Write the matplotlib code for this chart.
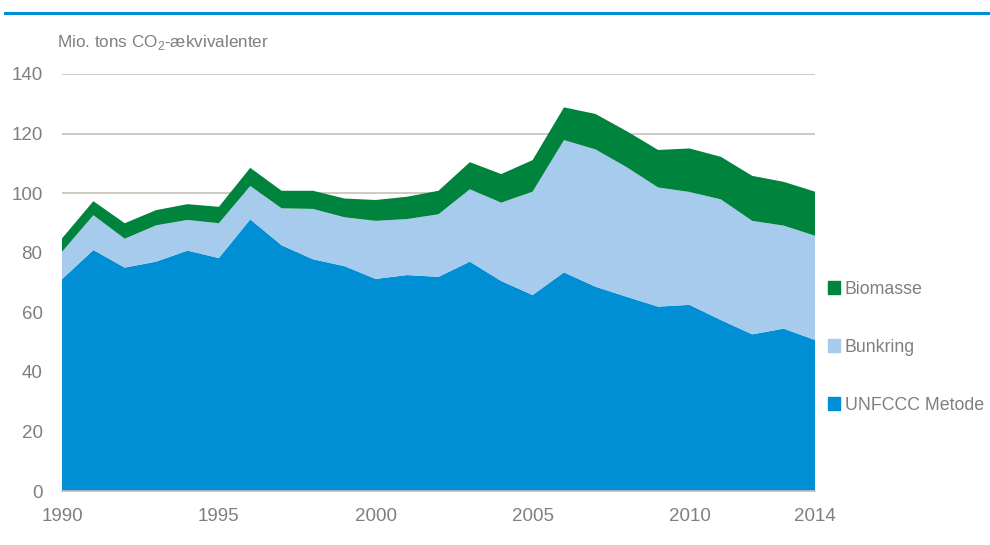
import numpy as np
import matplotlib.pyplot as plt
from matplotlib.patches import Patch
from matplotlib.lines import Line2D

years = np.arange(1990, 2015)
unfccc = [71.1, 80.9, 75.0, 77.0, 80.7, 78.2, 91.2, 82.5, 77.8, 75.5, 71.2, 72.5, 71.9,
          77.0, 70.5, 65.8, 73.4, 68.6, 65.2, 61.9, 62.5, 57.4, 52.6, 54.5, 50.7]
bunkring = [9.2, 11.7, 9.7, 12.2, 10.3, 11.7, 11.2, 12.4, 16.9, 16.4, 19.5, 18.8, 21.0,
            24.3, 26.3, 34.7, 44.4, 46.1, 43.5, 40.0, 37.9, 40.5, 38.1, 34.6, 35.0]
biomasse = [4.5, 4.7, 5.2, 5.1, 5.3, 5.5, 6.1, 5.9, 6.1, 6.3, 7.0, 7.5, 7.9,
            9.1, 9.6, 10.6, 11.0, 11.9, 12.1, 12.6, 14.6, 14.3, 15.1, 14.7, 14.8]
labels = ['UNFCCC Metode', 'Bunkring', 'Biomasse']
colors = ['#008fd5', '#a6cbec', '#00843d']
xticks = [1990, 1995, 2000, 2005, 2010, 2014]

plt.rcParams['font.family'] = ['Liberation Sans', 'DejaVu Sans']
plt.rcParams['mathtext.fontset'] = 'custom'
plt.rcParams['mathtext.rm'] = 'Liberation Sans'
grey = '#7f7f7f'

fig = plt.figure(figsize=(9.9, 5.45), dpi=100)
ax = fig.add_axes([62 / 990, 1 - 491 / 545, 753 / 990, 417 / 545])

ax.stackplot(years, unfccc, bunkring, biomasse, colors=colors, linewidth=0, zorder=2)

ax.set_xlim(1990, 2014)
ax.set_ylim(0, 140)
ax.set_yticks(np.arange(0, 141, 20))
ax.set_xticks(xticks)
ax.grid(axis='y', color='#c6c3b6', linewidth=1.2, zorder=0)
ax.set_axisbelow(True)
for s in ['top', 'right', 'left']:
    ax.spines[s].set_visible(False)
ax.spines['bottom'].set_color('#bfbfbf')
ax.spines['bottom'].set_linewidth(1.2)
ax.spines['bottom'].set_zorder(3)
ax.tick_params(length=0, labelsize=13.5, labelcolor=grey)
ax.tick_params(axis='y', pad=14)
ax.tick_params(axis='x', pad=12)

fig.text(57 / 990, 1 - 42 / 545, r'Mio. tons CO$_2$-ækvivalenter', fontsize=12.3,
         color=grey, va='center', ha='left')

# blue rule under the (cropped) heading
fig.add_artist(Line2D([5 / 990, 1], [1 - 13 / 545] * 2, color='#008fd5', linewidth=2.2))

handles = [Patch(color=c) for c in colors[::-1]]
ax.legend(handles, labels[::-1], loc='center left', bbox_to_anchor=(1.017, 0.345),
          borderaxespad=0, borderpad=0, frameon=False, fontsize=12.8, labelcolor=grey,
          handlelength=0.7, handleheight=0.7, handletextpad=0.25, labelspacing=2.3)

fig.savefig('out.png', dpi=100)
